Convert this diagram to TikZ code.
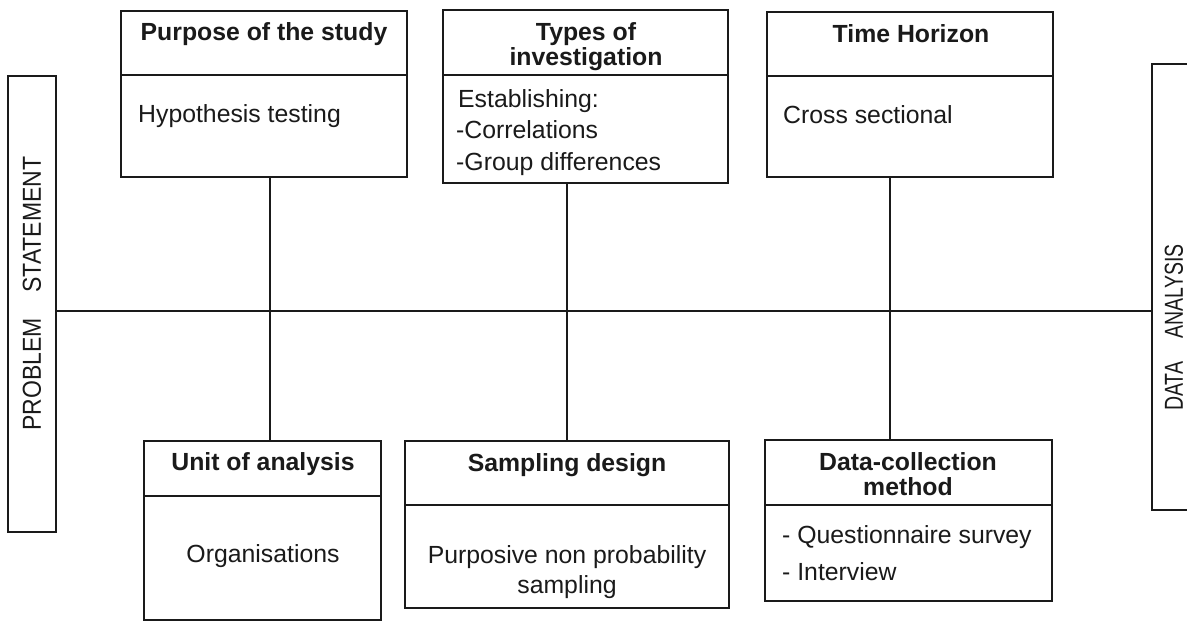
\documentclass[tikz,border=0pt]{standalone}
\usepackage{fontspec}
\setmainfont{Liberation Sans}
\definecolor{ink}{HTML}{1A1A1A}
\begin{document}
\begin{tikzpicture}[x=1pt,y=-1pt,
  frame/.style={draw=ink, line width=1.7pt, inner sep=0pt},
  rule/.style={draw=ink, line width=1.6pt},
  head/.style={font=\fontsize{24.8}{28}\selectfont\bfseries, text=ink, inner sep=0pt},
  body/.style={font=\fontsize{24.8}{28}\selectfont, text=ink, inner sep=0pt},
  side/.style={font=\fontsize{26}{30}\selectfont, text=ink, inner sep=0pt, rotate=90},
]
\clip (0,0) rectangle (1187,621);
\fill[white] (0,0) rectangle (1187,621);

% side bars
\node[frame, minimum width=48pt, minimum height=456pt] (L) at (32,304) {};
\node[frame, minimum width=48pt, minimum height=446pt] (R) at (1176,287) {};
\node[side] (Ltxt) at (32,293.5) {\scalebox{0.885}[1]{PROBLEM\hspace{1.1em}STATEMENT}};
\node[side] (Rtxt) at (1174,327.5) {\scalebox{0.75}[1]{DATA\hspace{1.2em}ANALYSIS}};

% upper boxes
\node[frame, minimum width=286pt, minimum height=166pt] (P) at (264,94) {};
\node[frame, minimum width=285pt, minimum height=173pt] (T) at (585.5,96.5) {};
\node[frame, minimum width=286pt, minimum height=165pt] (H) at (910,94.5) {};
\draw[rule] ([yshift=-65pt]P.north west) -- ([yshift=-65pt]P.north east);
\draw[rule] ([yshift=-66pt]T.north west) -- ([yshift=-66pt]T.north east);
\draw[rule] ([yshift=-65pt]H.north west) -- ([yshift=-65pt]H.north east);

% lower boxes
\node[frame, minimum width=237pt, minimum height=179pt] (U) at (262.5,530.5) {};
\node[frame, minimum width=324pt, minimum height=167pt] (S) at (567,524.5) {};
\node[frame, minimum width=287pt, minimum height=161pt] (D) at (908.5,520.5) {};
\draw[rule] ([yshift=-56pt]U.north west) -- ([yshift=-56pt]U.north east);
\draw[rule] ([yshift=-65pt]S.north west) -- ([yshift=-65pt]S.north east);
\draw[rule] ([yshift=-66pt]D.north west) -- ([yshift=-66pt]D.north east);

% spine and cross links
\draw[rule] ([yshift=-7pt]L.east) -- ([yshift=-7pt]L.east -| R.west);
\draw[rule] ([xshift=6pt]P.south) -- ([xshift=6pt]P.south |- U.north);
\draw[rule] (S.north |- T.south) -- (S.north);
\draw[rule] ([xshift=-20pt]H.south) -- ([xshift=-20pt]H.south |- D.north);

% upper texts
\node[head, anchor=base] (Ph) at (264,40) {Purpose of the study};
\node[body, anchor=base west] (Pb) at (138,122) {Hypothesis testing};

\node[head, anchor=base] (Th1) at (586,40) {Types of};
\node[head, anchor=base] (Th2) at (586,65) {investigation};
\node[body, anchor=base west] (Tb1) at (458,107) {Establishing:};
\node[body, anchor=base west] (Tb2) at (456,138) {-Correlations};
\node[body, anchor=base west] (Tb3) at (456,170) {-Group differences};

\node[head, anchor=base] (Hh) at (911,42) {Time Horizon};
\node[body, anchor=base west] (Hb) at (783,123) {Cross sectional};

% lower texts
\node[head, anchor=base] (Uh) at (263,470) {Unit of analysis};
\node[body, anchor=base] (Ub) at (263,562) {Organisations};

\node[head, anchor=base] (Sh) at (567,471) {Sampling design};
\node[body, anchor=base] (Sb1) at (567,563) {Purposive non probability};
\node[body, anchor=base] (Sb2) at (567,593) {sampling};

\node[head, anchor=base] (Dh1) at (908,470) {Data-collection};
\node[head, anchor=base] (Dh2) at (908,495) {method};
\node[body, anchor=base west] (Db1) at (782,543) {- Questionnaire survey};
\node[body, anchor=base west] (Db2) at (782,580) {- Interview};
\end{tikzpicture}
\end{document}
